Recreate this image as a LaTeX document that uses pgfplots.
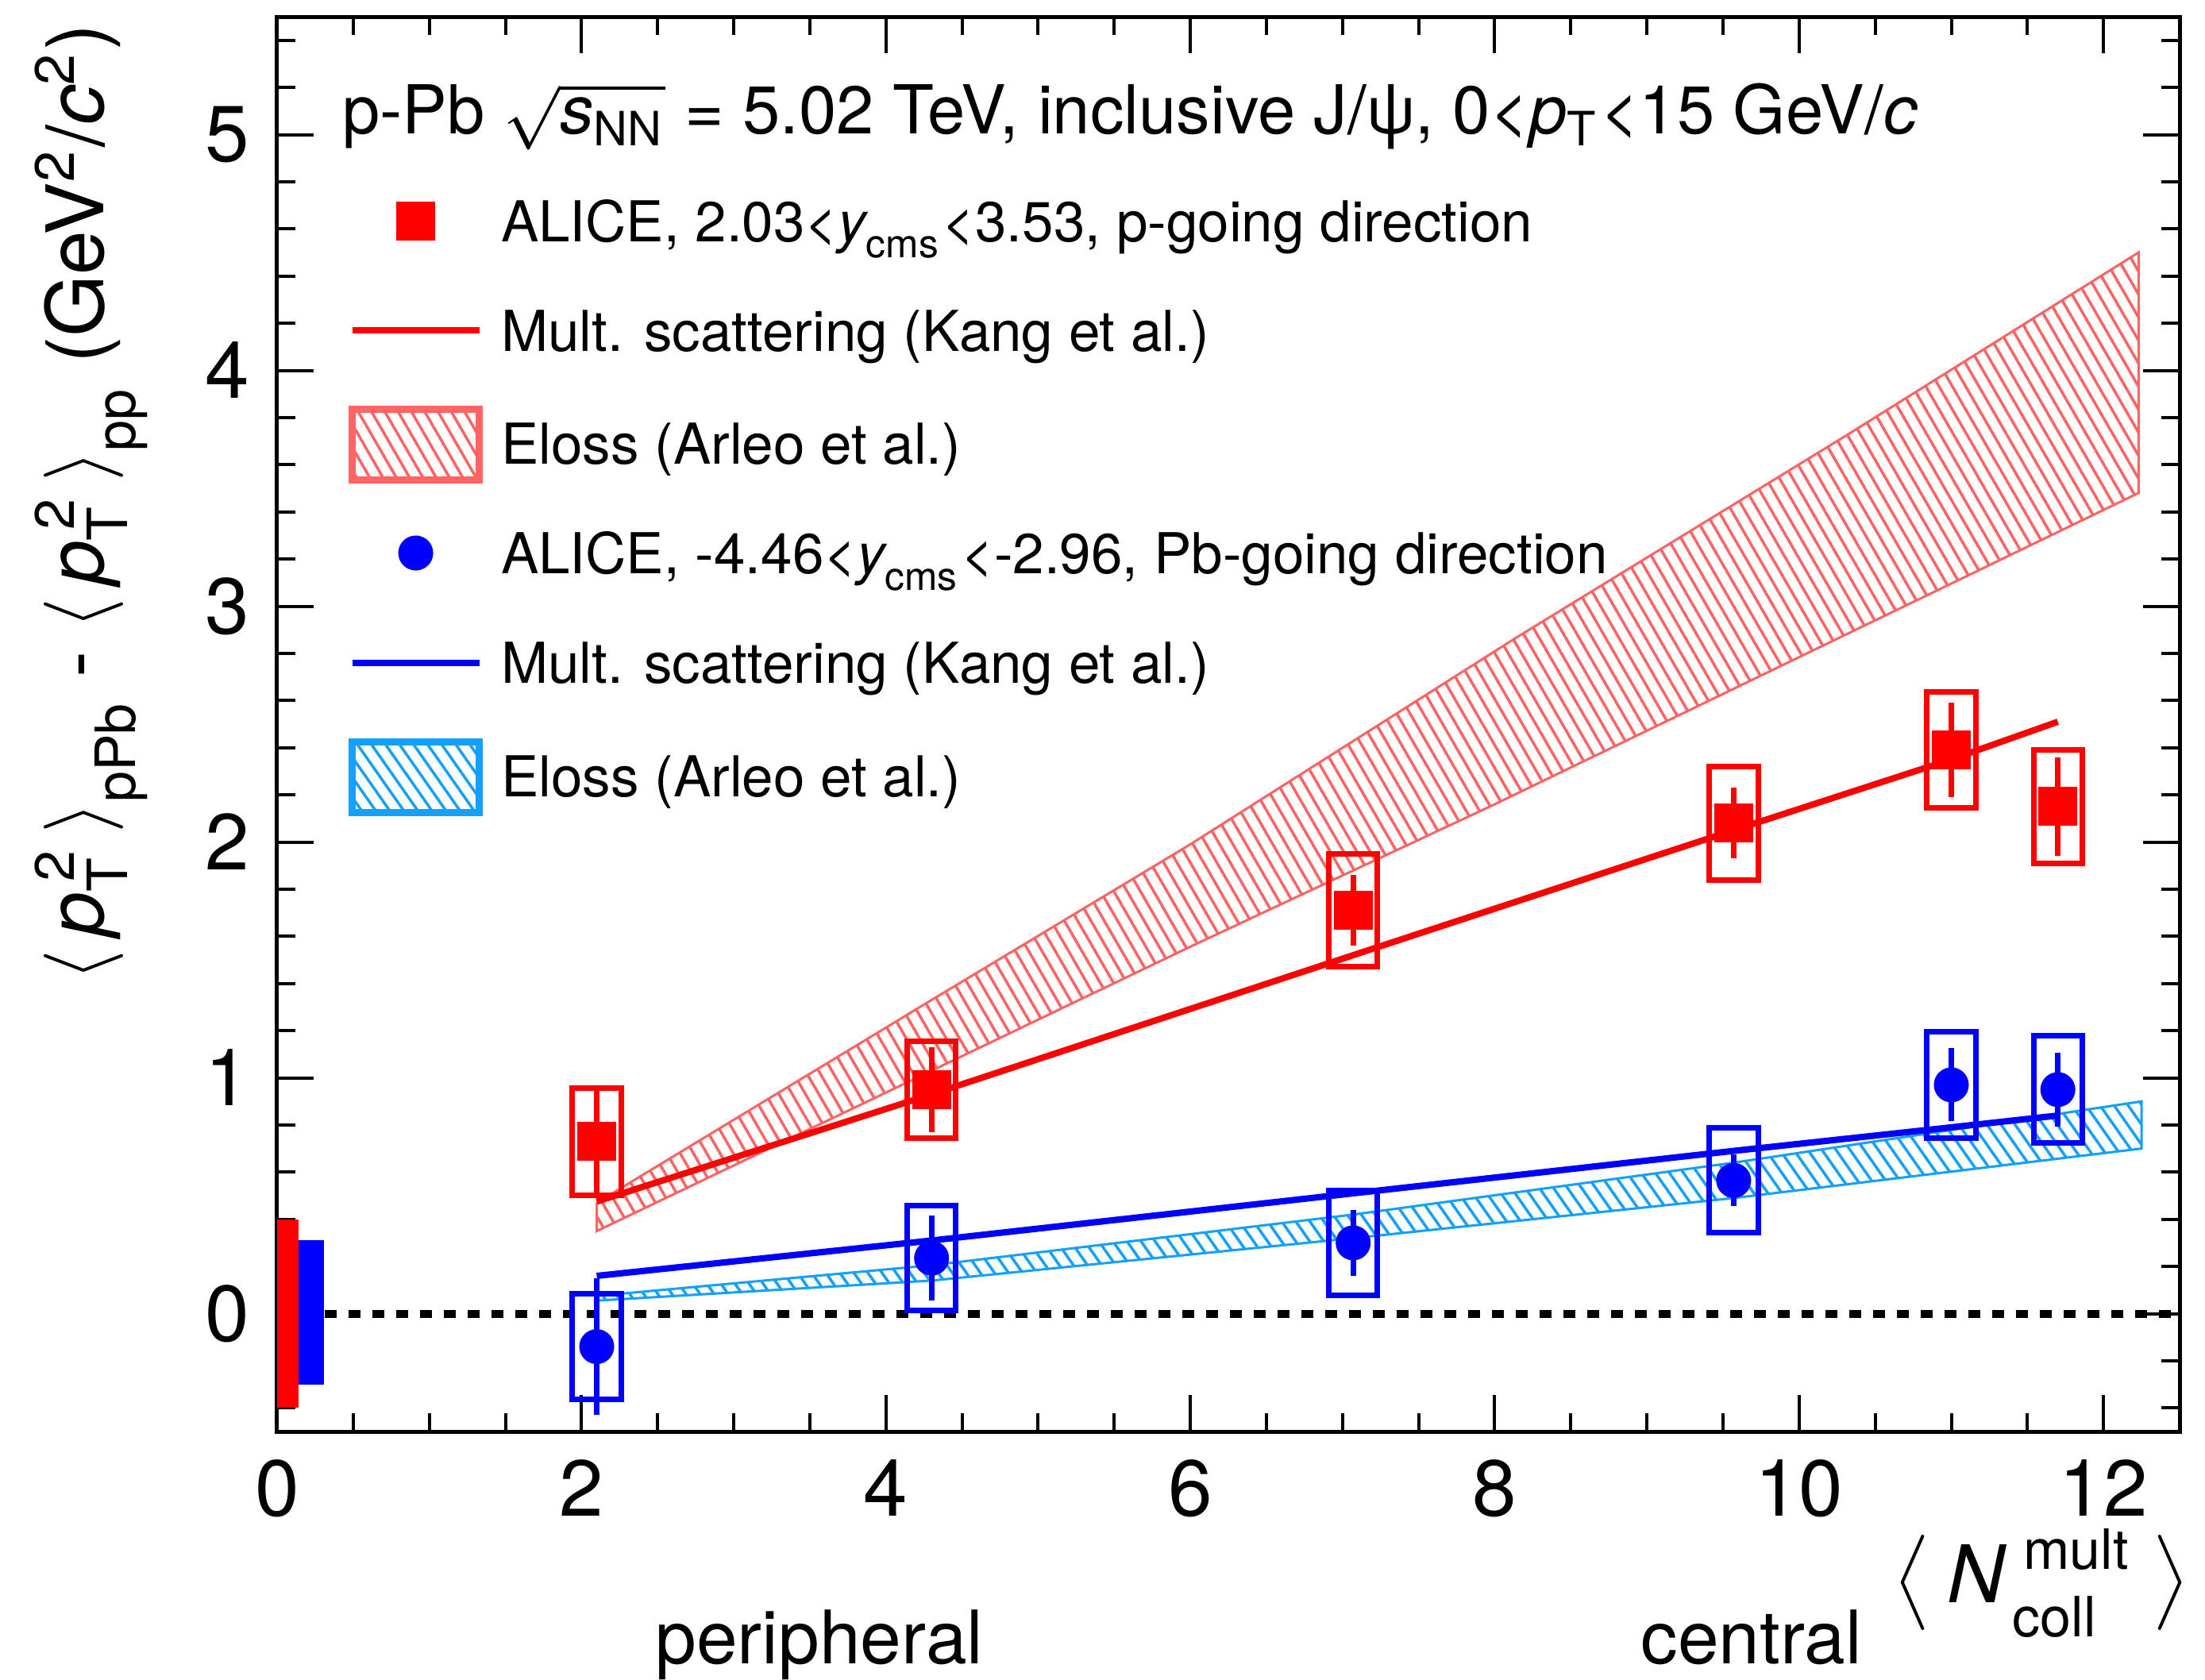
\documentclass[border=0pt]{standalone}
\usepackage{amsmath}
\usepackage{fontspec}
\setmainfont{TeX Gyre Heros}
\usepackage{pgfplots}
\pgfplotsset{compat=1.18}
\usetikzlibrary{patterns.meta}
\definecolor{hatchred}{RGB}{255,100,100}
\definecolor{hatchblue}{RGB}{20,160,255}
\pgfplotsset{
  sysR/.style={red, line width=0.7pt, line cap=rect, forget plot},
  sysB/.style={blue, line width=0.7pt, line cap=rect, forget plot},
}
\begin{document}
\begin{tikzpicture}
\useasboundingbox (-34.9pt,-31.2pt) rectangle (242.8pt,180.3pt);
\begin{axis}[
  scale only axis, width=239.6pt, height=178.2pt,
  xmin=0, xmax=12.5, ymin=-0.5, ymax=5.5,
  xtick={0,2,4,6,8,10,12}, ytick={0,1,2,3,4,5},
  minor xtick={0.5,1,...,12.5}, minor ytick={-0.4,-0.2,...,5.4},
  tick align=inside, major tick length=4.6pt, minor tick length=2.3pt,
  tick style={black, line width=0.4pt},
  axis line style={line width=0.5pt},
  /pgf/number format/assume math mode=true,
  ticklabel style={font=\fontsize{10}{12}\selectfont},
  clip=false,
  legend cell align=left,
  legend style={at={(axis description cs:0.0376,0.8799)}, anchor=north west,
    draw=none, fill=none, inner sep=0pt, outer sep=0pt,
    column sep=2.3pt, row sep=0pt,
    nodes={inner sep=0pt, text height=6.9pt, text depth=6.9pt, font=\fontsize{7.1}{8.5}\selectfont}},
]
% ---- legend entries ----
\addlegendimage{legend image code/.code={\fill[red] (5.75pt,0.35pt) rectangle (10.25pt,4.85pt); \path[draw=none,fill=none] (0pt,0pt) -- (16pt,0pt);}}
\addlegendentry{ALICE, 2.03<$\textit{y}_{\text{cms}}$<3.53, p-going direction}
\addlegendimage{legend image code/.code={\draw[red, line width=0.8pt] (0pt,2.6pt) -- (16pt,2.6pt);}}
\addlegendentry{Mult. scattering (Kang et al.)}
\addlegendimage{legend image code/.code={\draw[draw=hatchred, line width=0.9pt, pattern={Lines[angle=120,distance=1.45pt,line width=0.35pt]}, pattern color=hatchred] (0pt,-2.0pt) rectangle (16pt,6.9pt);}}
\addlegendentry{Eloss (Arleo et al.)}
\addlegendimage{legend image code/.code={\fill[blue] (8pt,2.6pt) circle (2pt); \path[draw=none,fill=none] (0pt,0pt) -- (16pt,0pt);}}
\addlegendentry{ALICE, -4.46<$\textit{y}_{\text{cms}}$<-2.96, Pb-going direction}
\addlegendimage{legend image code/.code={\draw[blue, line width=0.8pt] (0pt,2.6pt) -- (16pt,2.6pt);}}
\addlegendentry{Mult. scattering (Kang et al.)}
\addlegendimage{legend image code/.code={\draw[draw=hatchblue, line width=0.9pt, pattern={Lines[angle=125,distance=1.45pt,line width=0.35pt]}, pattern color=hatchblue] (0pt,-2.0pt) rectangle (16pt,6.9pt);}}
\addlegendentry{Eloss (Arleo et al.)}

% ---- Eloss bands ----
\addplot[forget plot, draw=hatchred, line width=0.3pt, pattern={Lines[angle=120,distance=1.45pt,line width=0.35pt]}, pattern color=hatchred]
  coordinates {(2.10,0.47) (4.30,1.33) (6.00,1.99) (8.15,2.87) (10.30,3.72) (12.23,4.50)
               (12.23,3.48) (10.34,2.89) (8.00,2.16) (6.00,1.556) (4.30,1.03) (2.10,0.35) (2.10,0.47)};
\addplot[forget plot, draw=hatchblue, line width=0.3pt, pattern={Lines[angle=125,distance=1.45pt,line width=0.35pt]}, pattern color=hatchblue]
  coordinates {(2.10,0.075) (4.30,0.205) (7.07,0.42) (9.57,0.64) (12.25,0.90)
               (12.25,0.70) (9.57,0.49) (7.07,0.32) (4.30,0.14) (2.10,0.055) (2.10,0.075)};

% ---- zero line ----
\addplot[forget plot, black, line width=1pt, dash pattern=on 1.5pt off 1.5pt] coordinates {(0,0) (12.5,0)};

% ---- Mult. scattering lines ----
\addplot[forget plot, red, line width=0.8pt] coordinates {(2.10,0.475) (4.30,0.93) (7.07,1.52) (9.57,2.05) (11.00,2.35) (11.70,2.51)};
\addplot[forget plot, blue, line width=0.8pt] coordinates {(2.10,0.16) (4.30,0.31) (7.07,0.51) (9.57,0.69) (11.00,0.79) (11.70,0.84)};

% ---- systematic boxes (red) ----
\addplot[sysR] coordinates {(1.94,0.503) (2.26,0.503) (2.26,0.957) (1.94,0.957) (1.94,0.503)};
\addplot[sysR] coordinates {(4.14,0.745) (4.46,0.745) (4.46,1.155) (4.14,1.155) (4.14,0.745)};
\addplot[sysR] coordinates {(6.91,1.47) (7.23,1.47) (7.23,1.95) (6.91,1.95) (6.91,1.47)};
\addplot[sysR] coordinates {(9.41,1.84) (9.73,1.84) (9.73,2.32) (9.41,2.32) (9.41,1.84)};
\addplot[sysR] coordinates {(10.84,2.145) (11.16,2.145) (11.16,2.635) (10.84,2.635) (10.84,2.145)};
\addplot[sysR] coordinates {(11.54,1.91) (11.86,1.91) (11.86,2.39) (11.54,2.39) (11.54,1.91)};
% ---- systematic boxes (blue) ----
\addplot[sysB] coordinates {(1.94,-0.365) (2.26,-0.365) (2.26,0.085) (1.94,0.085) (1.94,-0.365)};
\addplot[sysB] coordinates {(4.14,0.013) (4.46,0.013) (4.46,0.457) (4.14,0.457) (4.14,0.013)};
\addplot[sysB] coordinates {(6.91,0.078) (7.23,0.078) (7.23,0.522) (6.91,0.522) (6.91,0.078)};
\addplot[sysB] coordinates {(9.41,0.343) (9.73,0.343) (9.73,0.787) (9.41,0.787) (9.41,0.343)};
\addplot[sysB] coordinates {(10.84,0.743) (11.16,0.743) (11.16,1.197) (10.84,1.197) (10.84,0.743)};
\addplot[sysB] coordinates {(11.54,0.723) (11.86,0.723) (11.86,1.177) (11.54,1.177) (11.54,0.723)};

% ---- data points with statistical errors ----
\addplot[forget plot, red, only marks, mark=square*, mark size=2.25pt,
  error bars/.cd, y dir=both, y explicit, error mark=none, error bar style={red, line width=0.7pt}]
  table[x=x, y=y, y error=e] {
x y e
2.10 0.73 0.23
4.30 0.95 0.18
7.07 1.71 0.15
9.57 2.08 0.15
11.00 2.39 0.20
11.70 2.15 0.21
};
\addplot[forget plot, blue, only marks, mark=*, mark size=2pt,
  error bars/.cd, y dir=both, y explicit, error mark=none, error bar style={blue, line width=0.7pt}]
  table[x=x, y=y, y error=e] {
x y e
2.10 -0.14 0.29
4.30 0.235 0.18
7.07 0.30 0.14
9.57 0.565 0.11
11.00 0.97 0.155
11.70 0.95 0.157
};

% ---- global uncertainty boxes ----
\addplot[forget plot, fill=red, draw=none] coordinates {(0,-0.40) (0.14,-0.40) (0.14,0.40) (0,0.40)} -- cycle;
\addplot[forget plot, fill=blue, draw=none] coordinates {(0.14,-0.30) (0.31,-0.30) (0.31,0.31) (0.14,0.31)} -- cycle;

% ---- texts ----
\node[inner sep=0pt, anchor=base west, font=\fontsize{8.5}{10}\selectfont] at (axis description cs:0.0334,0.9175)
  {p-Pb $\sqrt{\textit{s}_{\text{NN}}}$ = 5.02 TeV, inclusive J/ψ, 0<\textit{p}$_{\text{T}}$<15 GeV/\textit{c}};
\node[inner sep=0pt, rotate=90, anchor=base east, font=\fontsize{10}{12}\selectfont] at (axis description cs:-0.0914,0.996)
  {$\langle\,\textit{p}^{\,\text{2}}_{\text{T}}\,\rangle_{\text{\raisebox{-2.5pt}{pPb}}}$ - $\langle\,\textit{p}^{\,\text{2}}_{\text{T}}\,\rangle_{\text{\raisebox{-2.5pt}{pp}}}$ (GeV$^{\text{2}}$/\textit{c}$^{\text{2}}$)};
\node[inner sep=0pt, anchor=base east, font=\fontsize{10}{12}\selectfont] at (axis description cs:1.0063,-0.121)
  {$\big\langle$\hspace{2.1pt}\textit{N}\hspace{0.7pt}\rlap{\raisebox{-4.3pt}{\fontsize{7}{8}\selectfont coll}}\hspace{1.4pt}\raisebox{4.2pt}{\fontsize{7}{8}\selectfont mult}\hspace{3.0pt}$\big\rangle$};
\node[inner sep=0pt, anchor=base, font=\fontsize{9.3}{11}\selectfont] at (axis description cs:0.285,-0.1644) {peripheral};
\node[inner sep=0pt, anchor=base, font=\fontsize{9.3}{11}\selectfont] at (axis description cs:0.775,-0.1644) {central};
\end{axis}
\end{tikzpicture}
\end{document}
